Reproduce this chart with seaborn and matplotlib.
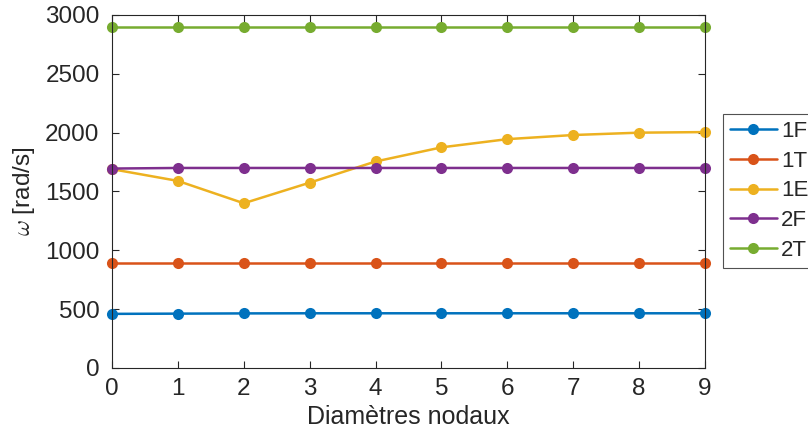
import numpy as np
import pandas as pd
import matplotlib
matplotlib.use("Agg")
import matplotlib.pyplot as plt
import seaborn as sns

diametres = [0, 1, 2, 3, 4, 5, 6, 7, 8, 9]
mode_1F = [460, 462, 464, 465, 465, 465, 465, 465, 465, 465]
mode_1T = [890, 890, 890, 890, 890, 890, 890, 890, 890, 890]
mode_1E = [1690, 1590, 1400, 1575, 1755, 1875, 1945, 1980, 2000, 2005]
mode_2F = [1695, 1700, 1700, 1700, 1700, 1700, 1700, 1700, 1700, 1700]
mode_2T = [2900, 2900, 2900, 2900, 2900, 2900, 2900, 2900, 2900, 2900]
labels = ["1F", "1T", "1E", "2F", "2T"]
colors = ["#0072BD", "#D95319", "#EDB120", "#7E2F8E", "#77AC30"]

series = [mode_1F, mode_1T, mode_1E, mode_2F, mode_2T]
rows = []
for lab, vals in zip(labels, series):
    for d, v in zip(diametres, vals):
        rows.append({"d": d, "w": v, "mode": lab})
df = pd.DataFrame(rows)

sns.set_style("ticks")
plt.rcParams['font.family'] = ['Liberation Sans', 'DejaVu Sans']
plt.rcParams['mathtext.fontset'] = 'cm'

fig = plt.figure(figsize=(8.08, 4.38), dpi=100)
ax = fig.add_axes([112/808, 1 - 368/438, (705-112)/808, (368-15)/438])
sns.lineplot(data=df, x="d", y="w", hue="mode", hue_order=labels,
             palette=colors, marker="o", markersize=8, markeredgewidth=0,
             linewidth=1.8, ax=ax, legend=True, clip_on=False)

ax.set_xlim(0, 9)
ax.set_ylim(0, 3000)
ax.set_xticks(range(10))
ax.set_yticks(range(0, 3001, 500))
ax.tick_params(direction="in", length=5, labelsize=17.5, colors="#262626",
               top=True, right=True, width=0.8)
ax.tick_params(axis="x", pad=7)
ax.tick_params(axis="y", pad=9)
for s in ax.spines.values():
    s.set_visible(True)
    s.set_color("#262626")
    s.set_linewidth(0.8)
ax.set_xlabel("Diamètres nodaux", fontsize=18, color="#262626", labelpad=4)
ax.set_ylabel(r"$\omega$ [rad/s]", fontsize=17.5, color="#262626", labelpad=6)

handles, lbls = ax.get_legend_handles_labels()
leg = ax.legend(handles, lbls, loc="upper left", bbox_to_anchor=(723/808, 1 - 114/438),
                bbox_transform=fig.transFigure, fontsize=16, frameon=True,
                fancybox=False, edgecolor="#262626", handlelength=2.1,
                handletextpad=0.18, borderpad=0.32, labelspacing=0.39,
                borderaxespad=0)
leg.get_frame().set_linewidth(0.8)

fig.savefig("out.png", dpi=100, facecolor="white")
